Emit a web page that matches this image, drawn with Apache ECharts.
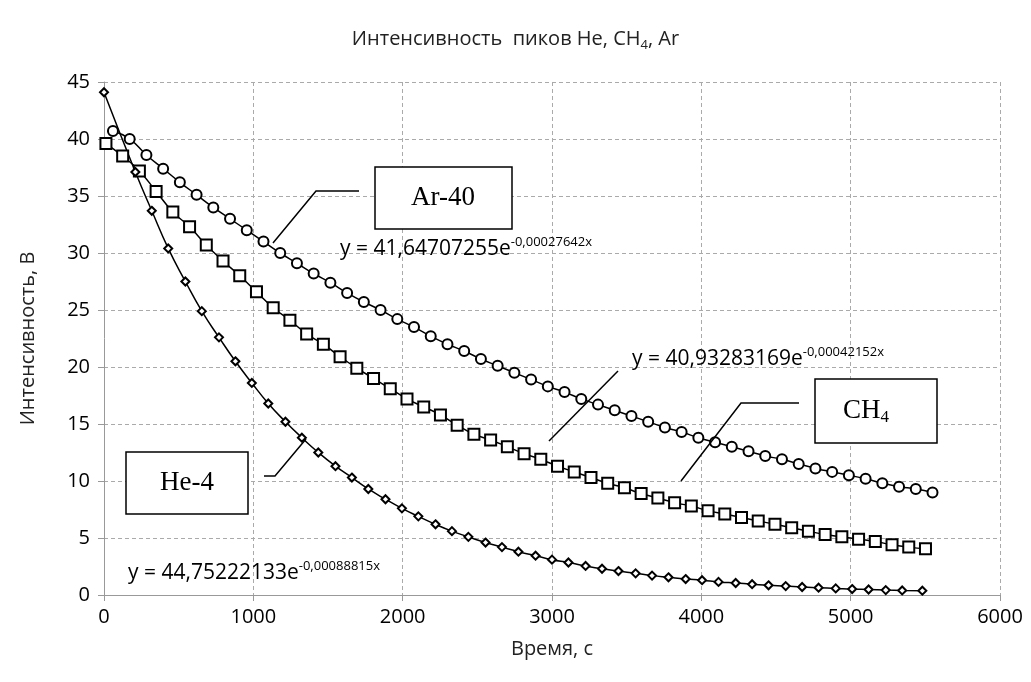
<!DOCTYPE html>
<html>
<head>
<meta charset="utf-8" />
<script src="https://cdn.jsdelivr.net/npm/echarts@6/dist/echarts.min.js"></script>
<style>body{margin:0;background:#fff}#chart{width:1031px;height:682px}</style>
</head>
<body>
<div id="chart"></div>
<script>
var heX = [0,210,320,430,545,655,770,880,990,1100,1215,1325,1435,1550,1660,1770,1885,1995,2105,2220,2330,2440,2555,2665,2775,2890,3000,3110,3225,3335,3445,3560,3670,3780,3895,4005,4115,4230,4340,4450,4565,4675,4785,4900,5010,5120,5235,5345,5480];
var heY = [44.1,37.1,33.7,30.4,27.5,24.9,22.6,20.5,18.6,16.8,15.2,13.8,12.5,11.3,10.3,9.3,8.4,7.6,6.9,6.2,5.6,5.1,4.6,4.2,3.8,3.45,3.1,2.85,2.55,2.3,2.1,1.9,1.7,1.55,1.4,1.3,1.15,1.05,0.95,0.85,0.78,0.7,0.64,0.58,0.52,0.48,0.43,0.4,0.38];
var arX = [60,172,284,396,508,620,732,844,956,1068,1180,1292,1404,1516,1628,1740,1852,1964,2076,2188,2300,2412,2524,2636,2748,2860,2972,3084,3196,3308,3420,3532,3644,3756,3868,3980,4092,4204,4316,4428,4540,4652,4764,4876,4988,5100,5212,5324,5436,5548];
var arY = [40.7,40.0,38.6,37.4,36.2,35.1,34.0,33.0,32.0,31.0,30.0,29.1,28.2,27.4,26.5,25.7,25.0,24.2,23.5,22.7,22.0,21.4,20.7,20.1,19.5,18.9,18.3,17.8,17.2,16.7,16.2,15.7,15.2,14.7,14.3,13.8,13.4,13.0,12.6,12.2,11.9,11.5,11.1,10.8,10.5,10.2,9.8,9.5,9.3,9.0];
var chX = [13,125,237,349,461,573,685,797,909,1021,1133,1245,1357,1469,1581,1693,1805,1917,2029,2141,2253,2365,2477,2589,2701,2813,2925,3037,3149,3261,3373,3485,3597,3709,3821,3933,4045,4157,4269,4381,4493,4605,4717,4829,4941,5053,5165,5277,5389,5501];
var chY = [39.6,38.5,37.2,35.4,33.6,32.3,30.7,29.3,28.0,26.6,25.2,24.1,22.9,22.0,20.9,19.9,19.0,18.1,17.2,16.5,15.8,14.9,14.1,13.6,13.0,12.4,11.9,11.3,10.8,10.3,9.8,9.4,8.9,8.5,8.1,7.8,7.4,7.1,6.8,6.5,6.2,5.9,5.6,5.3,5.1,4.9,4.7,4.4,4.2,4.05];

function zip(xs, ys) { return xs.map(function (x, i) { return [x, ys[i]]; }); }
function ser(sym, size, xs, ys) {
  return {
    type: 'line', smooth: true, symbol: sym, symbolSize: size,
    showSymbol: true, showAllSymbol: true,
    data: zip(xs, ys),
    lineStyle: {color: '#000', width: 1.5},
    itemStyle: {color: '#000', borderColor: '#000', borderWidth: 1.6}
  };
}
var sans = 'Open Sans';
var serif = 'Liberation Serif';
var supRich = {b: {fontSize: 21, fontFamily: sans, color: '#000'}, s: {fontSize: 13, fontFamily: sans, color: '#000', padding: [0, 0, 14, 0]}};
function eq(x, y, a, b) {
  return {type: 'text', x: x, y: y, z: 20, style: {text: '{b|y = ' + a + 'e}{s|' + b + '}', rich: supRich}};
}
function rect(x, y, w, h) {
  return {type: 'rect', z: 20, shape: {x: x, y: y, width: w, height: h}, style: {fill: '#fff', stroke: '#000', lineWidth: 1.5}};
}
function label(x, y, txt) {
  return {type: 'text', z: 21, x: x, y: y, style: {text: txt, align: 'center', verticalAlign: 'middle',
    rich: {a: {fontSize: 27, fontFamily: serif, color: '#000'}, s: {fontSize: 17, fontFamily: serif, color: '#000', padding: [14, 0, 0, 0]}}}};
}
function conn(pts) {
  return {type: 'polyline', z: 20, shape: {points: pts}, style: {stroke: '#000', lineWidth: 1.5, fill: null}};
}

var chart = echarts.init(document.getElementById('chart'));
chart.setOption({
  animation: false,
  title: {
    text: '{a|Интенсивность  пиков He, CH}{s|4}{a|, Ar}',
    left: 'center', top: 22,
    textStyle: {rich: {
      a: {fontSize: 20, fontFamily: sans, fontWeight: 'normal', color: '#222'},
      s: {fontSize: 13, fontFamily: sans, fontWeight: 'normal', color: '#222', padding: [12, 0, 0, 0]}
    }}
  },
  grid: {left: 104, right: 31, top: 82, bottom: 87},
  xAxis: {
    type: 'value', min: 0, max: 6000, interval: 1000,
    name: 'Время, с', nameLocation: 'middle', nameGap: 44,
    nameTextStyle: {fontSize: 20, fontFamily: sans, color: '#222'},
    axisLine: {lineStyle: {color: '#999'}},
    axisTick: {show: true, lineStyle: {color: '#999'}, length: 6},
    axisLabel: {fontSize: 20, fontFamily: sans, color: '#000', margin: 12, formatter: function (v) { return String(v); }},
    splitLine: {lineStyle: {type: [4, 3], color: '#aaa'}}
  },
  yAxis: {
    type: 'value', min: 0, max: 45, interval: 5,
    name: 'Интенсивность, В', nameLocation: 'middle', nameGap: 66,
    nameTextStyle: {fontSize: 20, fontFamily: sans, color: '#222'},
    axisLine: {show: true, lineStyle: {color: '#999'}},
    axisTick: {show: true, lineStyle: {color: '#999'}, length: 6},
    axisLabel: {fontSize: 20, fontFamily: sans, color: '#000', margin: 14},
    splitLine: {lineStyle: {type: [4, 3], color: '#aaa'}}
  },
  series: [
    ser('emptyCircle', 10, arX, arY),
    ser('emptyRect', 11, chX, chY),
    ser('emptyDiamond', 8, heX, heY)
  ],
  graphic: [
    conn([[359, 191], [316, 191], [273, 243]]),
    conn([[264, 476], [275, 476], [306, 439]]),
    conn([[799, 403], [741, 403], [681, 481]]),
    conn([[618, 371], [549, 441]]),
    rect(375, 167, 137, 62), label(443, 198, '{a|Ar-40}'),
    rect(126, 452, 122, 62), label(187, 483, '{a|He-4}'),
    rect(815, 379, 122, 64), label(866, 411, '{a|CH}{s|4}'),
    eq(340, 236, '41,64707255', '-0,00027642x'),
    eq(632, 346, '40,93283169', '-0,00042152x'),
    eq(128, 560, '44,75222133', '-0,00088815x')
  ]
});
</script>
</body>
</html>
